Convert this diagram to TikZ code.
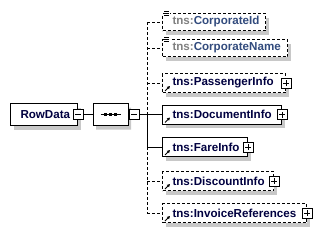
\documentclass[tikz,border=0pt]{standalone}
\usepackage{fontspec}
\newfontfamily\xsdfont{Liberation Sans}
\usetikzlibrary{shapes.misc,shadows,arrows.meta}

\definecolor{shadowgray}{RGB}{200,200,200}
\definecolor{elemtext}{RGB}{0,0,64}
\definecolor{tnsgray}{RGB}{128,128,128}
\definecolor{simpletext}{RGB}{50,75,125}

\begin{document}
\begin{tikzpicture}[x=1pt, y=-1pt, line width=1pt,
  font=\xsdfont\bfseries\fontsize{11.6}{13}\selectfont,
  dashes/.style={dash pattern=on 3pt off 2pt},
  optional/.style={dashes},
  required/.style={},
  boxshadow/.style={drop shadow={shadow xshift=3pt, shadow yshift=-4pt, fill=shadowgray, opacity=1}},
  elem/.style={draw, fill=white, anchor=west, inner xsep=0pt, inner ysep=0pt,
    align=left, text=elemtext, minimum height=19pt, boxshadow},
  simple/.style={minimum height=17pt},
  seqbox/.style={chamfered rectangle, chamfered rectangle xsep=5pt, chamfered rectangle ysep=5pt,
    draw, fill=white, inner sep=0pt, minimum width=35pt, minimum height=22pt, boxshadow},
  signbox/.style={draw, fill=white, minimum size=10pt, inner sep=0pt},
  minusbox/.style={signbox, path picture={
    \draw ([xshift=2pt]path picture bounding box.west) -- ([xshift=-2pt]path picture bounding box.east);}},
  plusbox/.style={signbox, path picture={
    \draw ([xshift=2pt]path picture bounding box.west) -- ([xshift=-2pt]path picture bounding box.east)
          ([yshift=2pt]path picture bounding box.south) -- ([yshift=-2pt]path picture bounding box.north);}},
  refarrow/.style={line width=0.8pt, -{Triangle[length=3pt,width=3pt]}}
]
\useasboundingbox (0,0) rectangle (321,233);

% --- RowData e sequenza ---
\node[elem, text width=67pt, minimum height=22pt] (rowdata) at (10,114.5) {\hspace*{10pt}RowData};
\node[minusbox] (rowdata-m) at (rowdata.east) {};

\node[seqbox] (seq) at (110.5,114.5) {};
\node[minusbox, anchor=west] (seq-m) at (seq.east) {};
\draw ([xshift=-10pt]seq.center) -- ([xshift=10pt]seq.center);
\foreach \d in {-5,0,5}{
  \fill ([xshift=\d pt]seq.center) +(-1.5pt,-1.5pt) rectangle +(1.5pt,1.5pt);
}

\coordinate (bus) at (147,114.5);

% --- Elementi semplici ---
\node[elem, simple, optional, text width=103pt] (cid) at (162,22)
  {\hspace*{10pt}{\color{tnsgray}tns:}\color{simpletext}CorporateId};
\node[elem, simple, optional, text width=125pt] (cname) at (162,48)
  {\hspace*{10pt}{\color{tnsgray}tns:}\color{simpletext}CorporateName};
\foreach \n in {cid,cname}{
  \fill[white] ([shift={(1.5,-2.5)}]\n.north west) rectangle ([shift={(7.5,2.5)}]\n.north west);
  \foreach \k in {-2,0,2}{
    \draw[line width=0.8pt] ([shift={(2,\k)}]\n.north west) -- ([shift={(7,\k)}]\n.north west);
  }
}

% --- Elementi complessi ---
\foreach \n/\y/\w/\s/\t in {pinfo/83/123/optional/PassengerInfo,
    dinfo/114.5/119/required/DocumentInfo, finfo/147/85/required/FareInfo,
    disc/181/111/optional/DiscountInfo, inv/213/144/optional/InvoiceReferences}{
  \node[elem, \s, text width=\w pt] (\n) at (162,\y) {\hspace*{10pt}tns:\t};
  \node[plusbox] (\n-p) at (\n.east) {};
  \draw[refarrow] ([shift={(3,-2)}]\n.south west) -- ([shift={(8,-7)}]\n.south west);
}

% --- Connettori ---
\draw (rowdata-m.east) -- (seq.west);
\draw (seq-m.east) -- (dinfo.west);
\draw[dashes] (bus |- cid.west) -- (bus);
\draw (bus) -- (bus |- finfo.west);
\draw[dashes] (bus |- finfo.west) -- (bus |- inv.west);
\draw (bus |- finfo.west) -- (finfo.west);
\foreach \n in {cid,cname,pinfo,disc,inv}{
  \draw[dashes] (bus |- \n.west) -- (\n.west);
}

\end{tikzpicture}
\end{document}
